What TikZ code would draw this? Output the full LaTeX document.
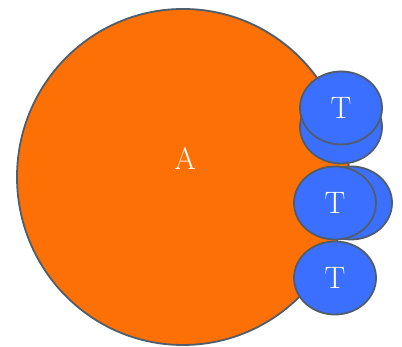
\documentclass[tikz,border=0pt]{standalone}
\usetikzlibrary{shapes.geometric,shadows}

\definecolor{aorange}{RGB}{253,112,5}
\definecolor{tblue}{RGB}{58,111,255}
\definecolor{rimgray}{RGB}{80,94,108}

\tikzset{
	blob/.style={ellipse,draw=rimgray,line width=1.8pt,inner sep=0pt,
		text=white,font=\fontsize{31}{31}\selectfont,
		drop shadow={opacity=0.25,shadow xshift=1pt,shadow yshift=1pt}},
	bigcell/.style={blob,fill=aorange,minimum width=332pt,minimum height=336pt},
	tcell/.style={blob,fill=tblue,minimum width=82pt,minimum height=73pt}
}

\begin{document}
\begin{tikzpicture}[x=1pt,y=-1pt]
	\useasboundingbox (0,0) rectangle (402,347);
	\node[bigcell] (A) at (183,177) {};
	\node[text=white,font=\fontsize{31}{31}\selectfont] (Alabel) at (185,159) {A};
	% T cells, back ones first
	\node[tcell] (T1b) at (341,127) {};
	\node[tcell] (T1) at (341,108) {T};
	\node[tcell] (T2b) at (351,203) {};
	\node[tcell] (T2) at (335,203) {T};
	\node[tcell] (T3) at (335,278) {T};
\end{tikzpicture}
\end{document}
